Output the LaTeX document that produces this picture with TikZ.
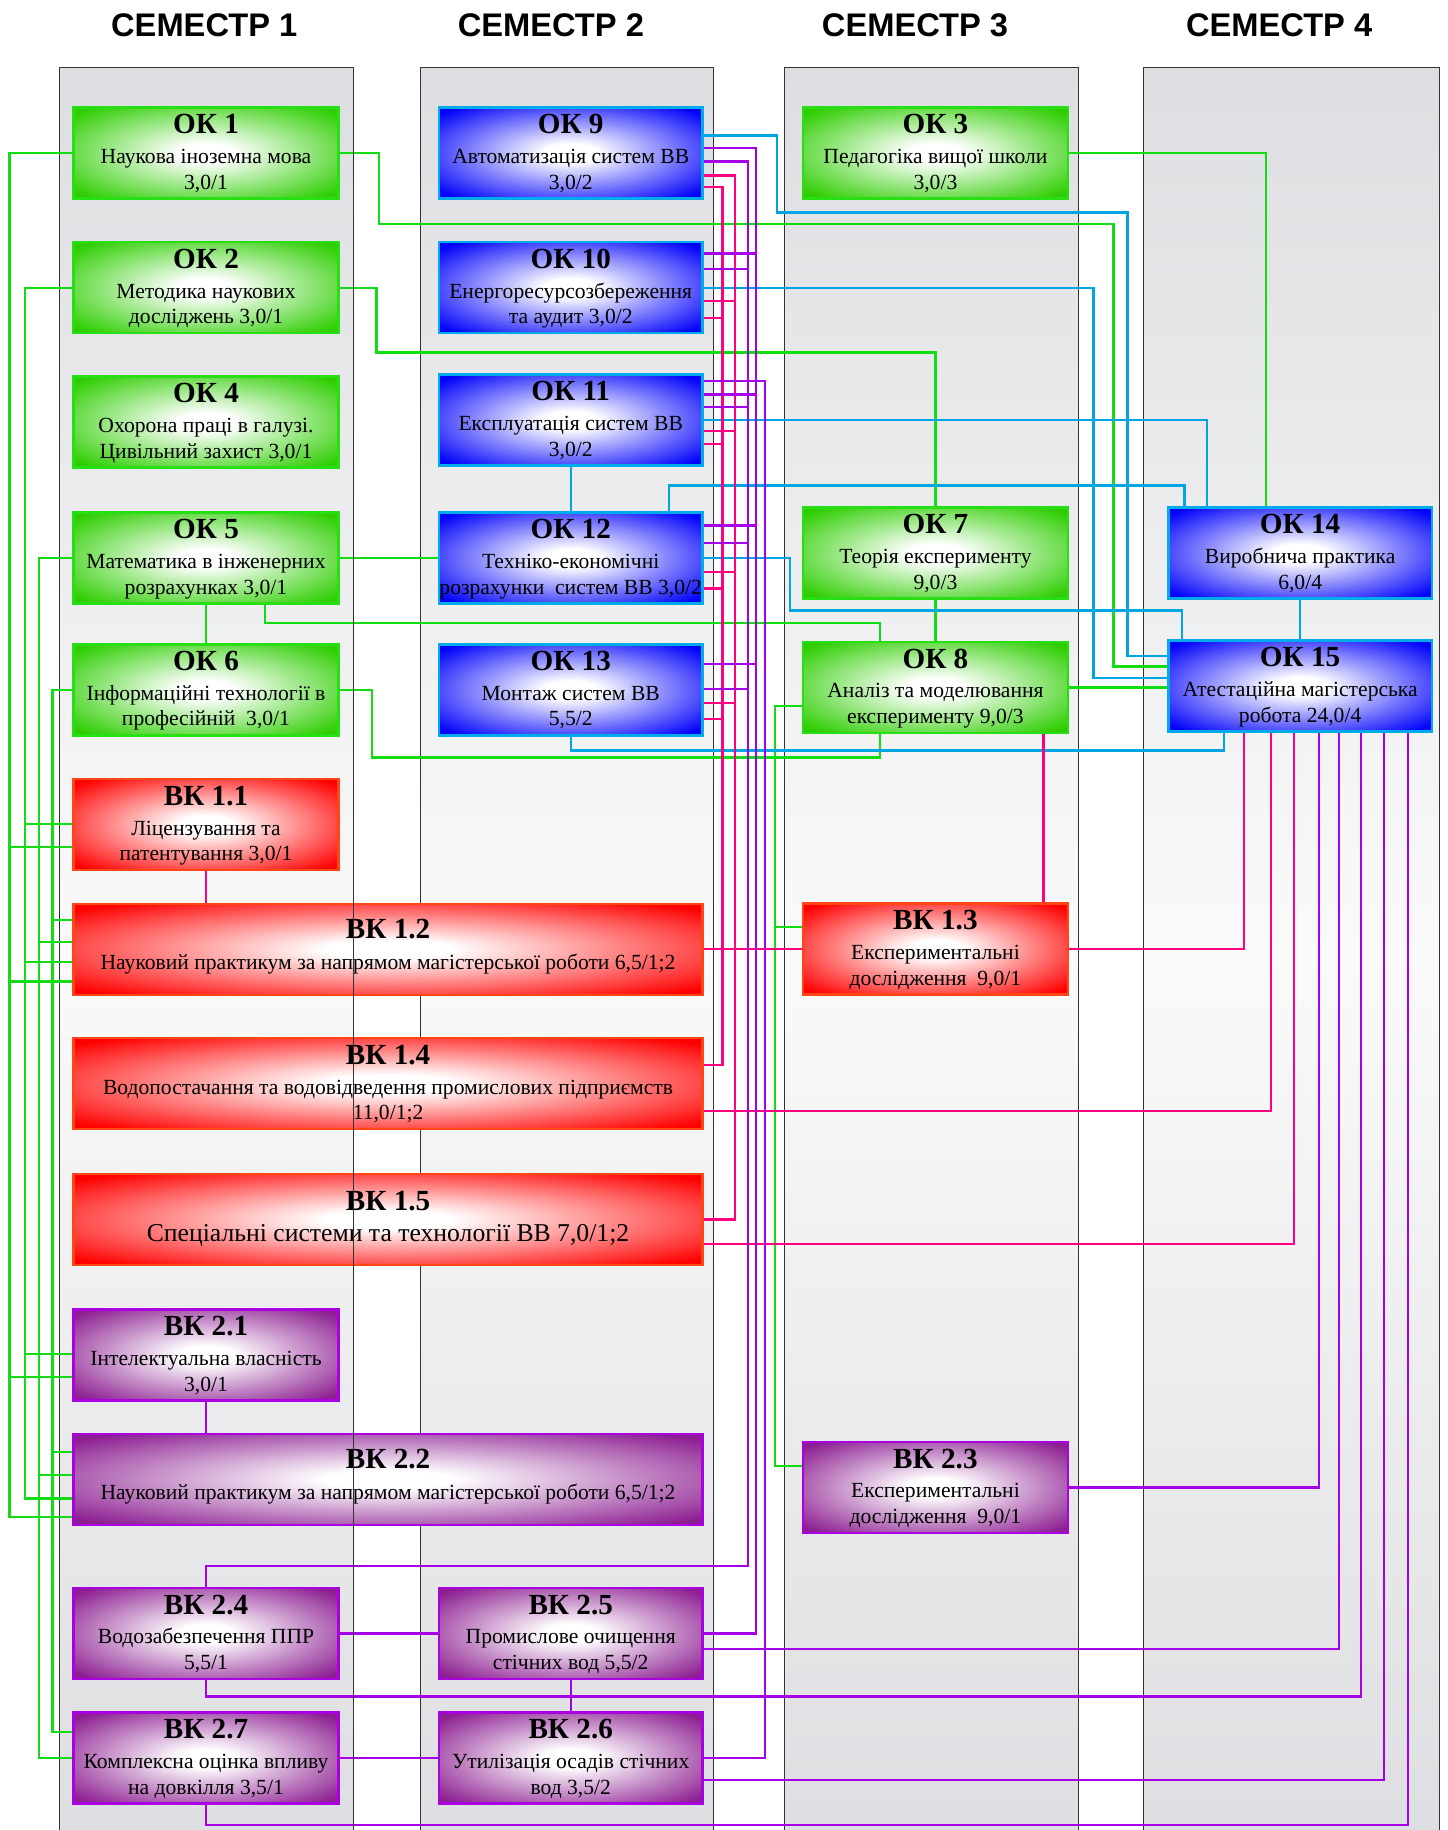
\documentclass[tikz,border=0pt]{standalone}
\usepackage{fontspec}
\setmainfont{Liberation Serif}
\newfontfamily\semfont{Liberation Sans}
\definecolor{kgE}{RGB}{45,205,0}
\definecolor{kgB}{RGB}{40,222,20}
\definecolor{kbE}{RGB}{0,0,250}
\definecolor{kbB}{RGB}{0,170,235}
\definecolor{krE}{RGB}{255,0,0}
\definecolor{krB}{RGB}{255,70,20}
\definecolor{kpE}{RGB}{140,30,145}
\definecolor{kpB}{RGB}{170,0,225}
\definecolor{lnG}{RGB}{20,220,20}
\definecolor{lnB}{RGB}{0,165,225}
\definecolor{lnP}{RGB}{255,0,128}
\definecolor{lnU}{RGB}{165,0,230}
\definecolor{colT}{RGB}{221,222,225}
\definecolor{colM}{RGB}{250,250,250}
\pgfdeclareradialshading{shgreen}{\pgfpoint{0bp}{0bp}}{color(0bp)=(white); color(5bp)=(white); color(33bp)=(kgE); color(100bp)=(kgE)}
\pgfdeclareradialshading{shblue}{\pgfpoint{0bp}{0bp}}{color(0bp)=(white); color(5bp)=(white); color(33bp)=(kbE); color(100bp)=(kbE)}
\pgfdeclareradialshading{shred}{\pgfpoint{0bp}{0bp}}{color(0bp)=(white); color(5bp)=(white); color(33bp)=(krE); color(100bp)=(krE)}
\pgfdeclareradialshading{shpurp}{\pgfpoint{0bp}{0bp}}{color(0bp)=(white); color(5bp)=(white); color(33bp)=(kpE); color(100bp)=(kpE)}
\pgfdeclarelayer{bg}
\pgfdeclarelayer{fg}
\pgfdeclarelayer{topl}
\pgfsetlayers{bg,main,fg,topl}
\tikzset{
  kb/.style={draw, line width=2.2pt, minimum height=78pt, inner sep=0pt, outer sep=0pt},
  okg/.style={shading=shgreen, draw=kgB},
  okb/.style={shading=shblue, draw=kbB},
  vkr/.style={shading=shred, draw=krB},
  vkp/.style={shading=shpurp, draw=kpB},
  ttl/.style={font=\fontsize{25}{25}\selectfont\bfseries, inner sep=0pt},
  bdy/.style={font=\fontsize{18.5}{21}\selectfont, inner sep=0pt},
  bdybig/.style={font=\fontsize{22}{24}\selectfont, inner sep=0pt},
  conn/.style={line width=2pt},
  gl/.style={conn, draw=lnG},
  bl/.style={conn, draw=lnB},
  pl/.style={conn, draw=lnP},
  ul/.style={conn, draw=lnU},
  colbg/.style={top color=colT, bottom color=colT, middle color=colM},
  colbd/.style={draw=black!80, line width=0.8pt},
  sem/.style={font=\semfont\bfseries\fontsize{28}{28}\selectfont, inner sep=0pt}
}
\newcommand\kbox[8]{%
  \node[kb,#2,minimum width=#5pt,anchor=north west] (#1) at (#3,#4) {};
  \node[ttl,anchor=base] (#1-t) at ([yshift=-22.5pt]#1.north) {#6};
  \node[bdy,anchor=base] (#1-a) at ([yshift=-48pt]#1.north) {#7};
  \node[bdy,anchor=base] (#1-b) at ([yshift=-70pt]#1.north) {#8};}
\newcommand\wbox[7]{%
  \node[kb,#2,minimum width=#5pt,anchor=north west] (#1) at (#3,#4) {};
  \node[ttl,anchor=base] (#1-t) at ([yshift=-30pt]#1.north) {#6};
  \node[bdy,anchor=base] (#1-a) at ([yshift=-56pt]#1.north) {#7};}
\begin{document}
\begin{tikzpicture}[x=1pt,y=-1pt]
\useasboundingbox (0,0) rectangle (1240,1568);
\begin{pgfonlayer}{bg}
  \fill[white] (0,0) rectangle (1240,1568);
  \foreach \a/\b in {51/303,360/611,672/924,980/1233}{
    \path[colbg] (\a,58) rectangle (\b,1580);
    \draw[colbd] (\a,1580) -- (\a,58) -- (\b,58) -- (\b,1580);
  }
\end{pgfonlayer}
% semester titles
\node[sem] (sem1) at (175,22) {СЕМЕСТР 1};
\node[sem] (sem2) at (472,22) {СЕМЕСТР 2};
\node[sem] (sem3) at (784,22) {СЕМЕСТР 3};
\node[sem] (sem4) at (1096,22) {СЕМЕСТР 4};
\begin{pgfonlayer}{fg}
% column 1
\kbox{ok1}{okg}{63}{92}{227}{ОК 1}{Наукова іноземна мова}{3,0/1}
\kbox{ok2}{okg}{63}{207.5}{227}{ОК 2}{Методика наукових}{досліджень 3,0/1}
\kbox{ok4}{okg}{63}{322.5}{227}{ОК 4}{Охорона праці в галузі.}{Цивільний захист 3,0/1}
\kbox{ok5}{okg}{63}{439}{227}{ОК 5}{Математика в інженерних}{розрахунках 3,0/1}
\kbox{ok6}{okg}{63}{552}{227}{ОК 6}{Інформаційні технології в}{професійній\ \ 3,0/1}
\kbox{vk11}{vkr}{63}{667.5}{227}{ВК 1.1}{Ліцензування та}{патентування 3,0/1}
\wbox{vk12}{vkr}{63}{774.5}{539}{ВК 1.2}{Науковий практикум за напрямом магістерської роботи 6,5/1;2}
\kbox{vk14}{vkr}{63}{889.5}{539}{ВК 1.4}{Водопостачання та водовідведення промислових підприємств}{11,0/1;2}
\node[kb,vkr,minimum width=539pt,anchor=north west] (vk15) at (63,1006) {};
\node[ttl,anchor=base] (vk15-t) at ([yshift=-31pt]vk15.north) {ВК 1.5};
\node[bdybig,anchor=base] (vk15-a) at ([yshift=-58pt]vk15.north) {Спеціальні системи та технології ВВ 7,0/1;2};
\kbox{vk21}{vkp}{63}{1122}{227}{ВК 2.1}{Інтелектуальна власність}{3,0/1}
\wbox{vk22}{vkp}{63}{1228.5}{539}{ВК 2.2}{Науковий практикум за напрямом магістерської роботи 6,5/1;2}
\kbox{vk24}{vkp}{63}{1360.5}{227}{ВК 2.4}{Водозабезпечення ППР}{5,5/1}
\kbox{vk27}{vkp}{63}{1467.5}{227}{ВК 2.7}{Комплексна оцінка впливу}{на довкілля 3,5/1}
% column 2
\kbox{ok9}{okb}{376}{92}{226}{ОК 9}{Автоматизація систем ВВ}{3,0/2}
\kbox{ok10}{okb}{376}{207.5}{226}{ОК 10}{Енергоресурсозбереження}{та аудит 3,0/2}
\kbox{ok11}{okb}{376}{321}{226}{ОК 11}{Експлуатація систем ВВ}{3,0/2}
\kbox{ok12}{okb}{376}{439}{226}{ОК 12}{Техніко-економічні}{розрахунки\ \ систем ВВ 3,0/2}
\kbox{ok13}{okb}{376}{552}{226}{ОК 13}{Монтаж систем ВВ}{5,5/2}
\kbox{vk25}{vkp}{376}{1360.5}{226}{ВК 2.5}{Промислове очищення}{стічних вод 5,5/2}
\kbox{vk26}{vkp}{376}{1467.5}{226}{ВК 2.6}{Утилізація осадів стічних}{вод 3,5/2}
% column 3
\kbox{ok3}{okg}{688}{92}{227}{ОК 3}{Педагогіка вищої школи}{3,0/3}
\kbox{ok7}{okg}{688}{435}{227}{ОК 7}{Теорія експерименту}{9,0/3}
\kbox{ok8}{okg}{688}{550}{227}{ОК 8}{Аналіз та моделювання}{експерименту 9,0/3}
\kbox{vk13}{vkr}{688}{774}{227}{ВК 1.3}{Експериментальні}{дослідження\ \ 9,0/1}
\kbox{vk23}{vkp}{688}{1235.5}{227}{ВК 2.3}{Експериментальні}{дослідження\ \ 9,0/1}
% column 4
\kbox{ok14}{okb}{1001}{435}{226}{ОК 14}{Виробнича практика}{6,0/4}
\kbox{ok15}{okb}{1001}{549}{226}{ОК 15}{Атестаційна магістерська}{робота 24,0/4}
\end{pgfonlayer}
\begin{pgfonlayer}{topl}
  \draw[colbd] (303,58) -- (303,1580);
\end{pgfonlayer}
% bus coordinates
\coordinate (gb1) at (8,131);
\coordinate (gb2) at (21.5,246.5);
\coordinate (gb3) at (33.5,478);
\coordinate (gb4) at (45,591);
\coordinate (pb1) at (619,160.3);
\coordinate (pb2) at (630,150.4);
\coordinate (ub1) at (640.7,138.3);
\coordinate (ub2) at (647.6,126.6);
\coordinate (ub3) at (655.6,326.3);
\coordinate (gb5) at (664,605);
% ---- green
\draw[gl] (ok1.west) -- (gb1) -- (8,1300) -- (vk22.west |- 0,1300);
\draw[gl] (gb1 |- 0,726) -- (vk11.west |- 0,726);
\draw[gl] (gb1 |- 0,841) -- (vk12.west |- 0,841);
\draw[gl] (gb1 |- 0,1180) -- (vk21.west |- 0,1180);
\draw[gl] (ok2.west) -- (gb2) -- (21.5,1284) -- (vk22.west |- 0,1284);
\draw[gl] (gb2 |- 0,706) -- (vk11.west |- 0,706);
\draw[gl] (gb2 |- 0,824) -- (vk12.west |- 0,824);
\draw[gl] (gb2 |- 0,1160) -- (vk21.west |- 0,1160);
\draw[gl] (ok5.west) -- (gb3) -- (33.5,1506.5) -- (vk27.west);
\draw[gl] (gb3 |- 0,807) -- (vk12.west |- 0,807);
\draw[gl] (gb3 |- 0,1264) -- (vk22.west |- 0,1264);
\draw[gl] (ok6.west) -- (gb4) -- (45,1484) -- (vk27.west |- 0,1484);
\draw[gl] (gb4 |- 0,788) -- (vk12.west |- 0,788);
\draw[gl] (gb4 |- 0,1244) -- (vk22.west |- 0,1244);
\draw[gl] (ok1.east) -- (324.5,131) -- (324.5,192) -- (954,192) -- (954,571) -- (ok15.west |- 0,571);
\draw[gl] (ok2.east) -- (322.5,246.5) -- (322.5,302) -- (ok7.north |- 0,302) -- (ok7.north);
\draw[gl] (ok3.east) -- (1085,131) -- (1085,0 |- ok14.north);
\draw[gl] (ok5.east) -- (ok12.west);
\draw[gl] (227,0 |- ok5.south) -- (227,534) -- (754,534) -- (754,0 |- ok8.north);
\draw[gl] (ok5.south) -- (ok6.north);
\draw[gl] (ok6.east) -- (318.7,591) -- (318.7,649) -- (754,649) -- (754,0 |- ok8.south);
\draw[gl] (ok7.south) -- (ok8.north);
\draw[gl] (ok8.east) -- (ok15.west |- 0,589);
\draw[gl] (ok8.west |- 0,605) -- (gb5) -- (664,1256) -- (vk23.west |- 0,1256);
\draw[gl] (gb5 |- 0,794) -- (vk13.west |- 0,794);
% ---- blue
\draw[bl] (ok9.east |- 0,116) -- (666,116) -- (666,182) -- (966,182) -- (966,562) -- (ok15.west |- 0,562);
\draw[bl] (ok10.east) -- (937,246.5) -- (937,581) -- (ok15.west |- 0,581);
\draw[bl] (ok11.east) -- (1034,360) -- (1034,0 |- ok14.north);
\draw[bl] (573,0 |- ok12.north) -- (573,416) -- (1015,416) -- (1015,0 |- ok14.north);
\draw[bl] (ok12.east) -- (677,478) -- (677,523) -- (1013,523) -- (1013,0 |- ok15.north);
\draw[bl] (ok11.south) -- (ok12.north);
\draw[bl] (ok13.south) -- (489,643) -- (1049,643) -- (1049,0 |- ok15.south);
\draw[bl] (ok14.south) -- (ok14.south |- ok15.north);
% ---- pink
\draw[pl] (ok9.east |- pb1) -- (pb1) -- (619,912.4) -- (vk14.east |- 0,912.4);
\foreach \n/\y in {ok10/272.3,ok11/380.5,ok12/504.2,ok13/616.2}
  \draw[pl] (\n.east |- 0,\y) -- (pb1 |- 0,\y);
\draw[pl] (ok9.east |- pb2) -- (pb2) -- (630,1045) -- (vk15.east |- 0,1045);
\foreach \n/\y in {ok10/257.7,ok11/369.2,ok12/490,ok13/602.6}
  \draw[pl] (\n.east |- 0,\y) -- (pb2 |- 0,\y);
\draw[pl] (vk11.south) -- (vk11.south |- vk12.north);
\draw[pl] (vk12.east |- 0,813) -- (vk13.west);
\draw[pl] (894,0 |- ok8.south) -- (894,0 |- vk13.north);
\draw[pl] (vk13.east) -- (1066,813) -- (1066,0 |- ok15.south);
\draw[pl] (vk14.east |- 0,952) -- (1089,952) -- (1089,0 |- ok15.south);
\draw[pl] (vk15.east |- 0,1066) -- (1108.5,1066) -- (1108.5,0 |- ok15.south);
% ---- purple
\draw[ul] (ok9.east |- ub1) -- (ub1) -- (640.7,1342) -- (vk24.north |- 0,1342) -- (vk24.north);
\foreach \n/\y in {ok10/230.7,ok11/348.6,ok12/465.2,ok13/590.2}
  \draw[ul] (\n.east |- 0,\y) -- (ub1 |- 0,\y);
\draw[ul] (ok9.east |- ub2) -- (ub2) -- (647.6,1399.5) -- (vk25.east);
\foreach \n/\y in {ok10/217.2,ok11/338,ok12/450.3,ok13/569}
  \draw[ul] (\n.east |- 0,\y) -- (ub2 |- 0,\y);
\draw[ul] (ok11.east |- ub3) -- (ub3) -- (655.6,1506.5) -- (vk26.east);
\draw[ul] (vk21.south) -- (vk21.south |- vk22.north);
\draw[ul] (vk24.east) -- (vk25.west);
\draw[ul] (vk27.east) -- (vk26.west);
\draw[ul] (vk25.south) -- (vk26.north);
\draw[ul] (vk23.east) -- (1130,1274.5) -- (1130,0 |- ok15.south);
\draw[ul] (vk25.east |- 0,1413) -- (1147.5,1413) -- (1147.5,0 |- ok15.south);
\draw[ul] (vk24.south) -- (176.5,1453.6) -- (1166.4,1453.6) -- (1166.4,0 |- ok15.south);
\draw[ul] (vk26.east |- 0,1525.2) -- (1185.6,1525.2) -- (1185.6,0 |- ok15.south);
\draw[ul] (vk27.south) -- (176.5,1563.7) -- (1206.6,1563.7) -- (1206.6,0 |- ok15.south);
\end{tikzpicture}
\end{document}
